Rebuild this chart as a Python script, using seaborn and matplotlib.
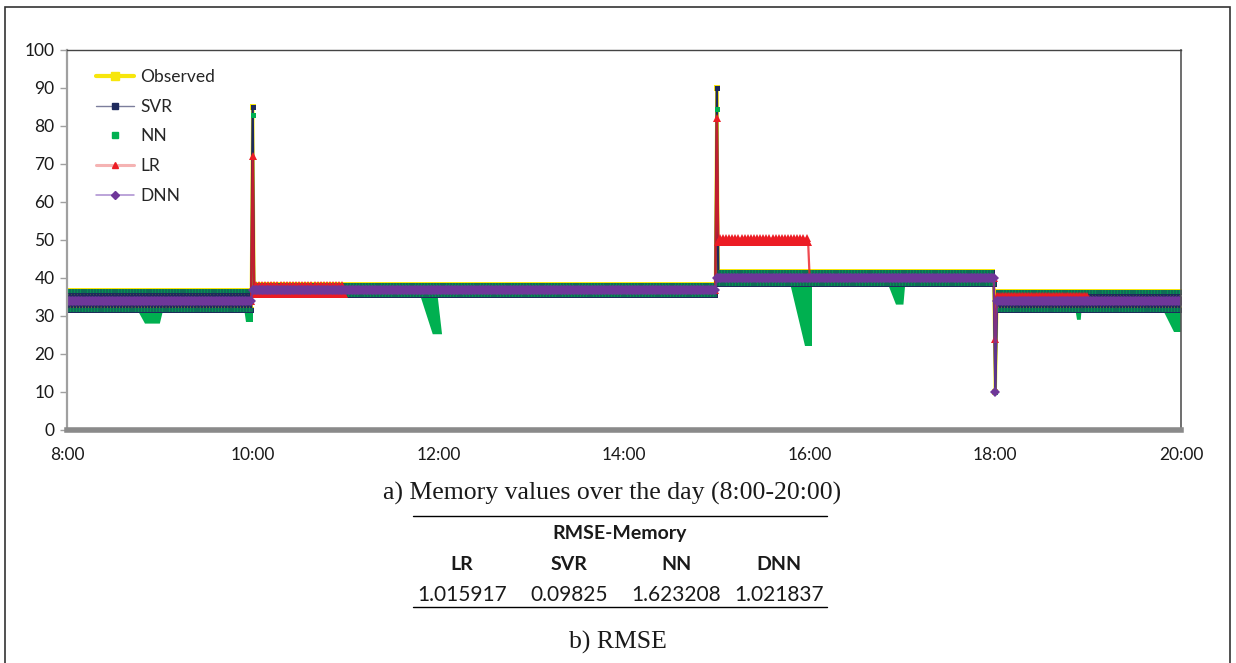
import numpy as np
import pandas as pd
import matplotlib
matplotlib.use("Agg")
import matplotlib.pyplot as plt
import seaborn as sns
from matplotlib.lines import Line2D
from matplotlib.patches import Rectangle

# ---- values ----
# observed memory: the series flips between a high and a low level every minute
seg_start = [8.0, 10.0, 15.0, 18.0]
seg_end = [10.0, 15.0, 18.0, 20.0]
obs_hi = [36.5, 38.2, 41.7, 36.2]
obs_lo = [31.7, 35.4, 38.3, 31.7]
dnn_level = [34.0, 36.8, 40.0, 34.0]

# LR has its own steps
lr_start = [8.0, 10.0, 11.0, 15.0, 16.0, 18.0, 19.0]
lr_end = [10.0, 11.0, 15.0, 16.0, 18.0, 19.0, 20.0]
lr_hi = [34.0, 38.2, 36.8, 50.5, 40.0, 35.3, 34.0]
lr_lo = [34.0, 35.8, 36.8, 49.5, 40.0, 35.3, 34.0]

# one-minute spikes
spike_time = [10.0, 15.0, 18.0]
spike_obs = [85, 90, 10]
spike_svr = [85, 90, 10]
spike_nn = [83, 84.5, 10]
spike_lr = [72, 82, 24]
spike_dnn = [36.8, 40.0, 10]

# NN drop-outs, outline of each green wedge (hour, value)
nn_dip_t = [
    [8.75, 9.04, 9.00, 8.84],
    [9.91, 10.0, 10.0, 9.93],
    [11.80, 11.99, 12.04, 11.94],
    [15.79, 16.03, 16.03, 15.95],
    [16.84, 17.03, 17.01, 16.93],
    [18.86, 18.93, 18.92, 18.88],
    [19.80, 20.0, 20.0, 19.92],
]
nn_dip_v = [
    [32.0, 32.0, 28.0, 28.0],
    [32.0, 32.0, 28.5, 28.5],
    [35.8, 35.8, 25.2, 25.2],
    [38.6, 38.6, 22.0, 22.0],
    [38.6, 38.6, 33.0, 33.0],
    [32.0, 32.0, 29.0, 29.0],
    [32.0, 32.0, 25.8, 25.8],
]

x_ticks = [8, 10, 12, 14, 16, 18, 20]
x_tick_labels = ["8:00", "10:00", "12:00", "14:00", "16:00", "18:00", "20:00"]
y_ticks = list(range(0, 101, 10))

rmse_models = ["LR", "SVR", "NN", "DNN"]
rmse_values = ["1.015917", "0.09825", "1.623208", "1.021837"]

# colours
c_obs = "#f7e60c"
c_svr = "#1e2a5c"
c_nn = "#00b050"
c_lr = "#ec1c24"
c_dnn = "#6f3799"

# ---- build minute series ----
minutes = np.arange(0, 12 * 60 + 1)
hours = 8 + minutes / 60


def steps(starts, ends, hi, lo):
    out = np.zeros(len(minutes))
    for s, e, h, l in zip(starts, ends, hi, lo):
        m0, m1 = round((s - 8) * 60), round((e - 8) * 60)
        mask = (minutes >= m0) & ((minutes < m1) | ((e == 20.0) & (minutes <= m1)))
        out[mask] = np.where(minutes[mask] % 2 == 0, h, l)
    return out


def add_spikes(vals, spikes):
    vals = vals.copy()
    for t, v in zip(spike_time, spikes):
        vals[round((t - 8) * 60)] = v
    return vals


df = pd.DataFrame({"hour": hours})
df["Observed"] = add_spikes(steps(seg_start, seg_end, obs_hi, obs_lo), spike_obs)
df["SVR"] = add_spikes(steps(seg_start, seg_end, obs_hi, obs_lo), spike_svr)
df["NN"] = add_spikes(steps(seg_start, seg_end, obs_hi, obs_lo), spike_nn)
df["LR"] = add_spikes(steps(lr_start, lr_end, lr_hi, lr_lo), spike_lr)
df["DNN"] = add_spikes(steps(seg_start, seg_end, dnn_level, dnn_level), spike_dnn)

# ---- plot ----
sns.set_style("white")
plt.rcParams["font.family"] = ["Lato", "DejaVu Sans"]

fig = plt.figure(figsize=(12.36, 6.63), dpi=100)
ax = fig.add_axes([67 / 1236, 1 - 430 / 663, 1114 / 1236, 380 / 663])

sns.lineplot(data=df, x="hour", y="Observed", ax=ax, color=c_obs, linewidth=2.3,
             marker="s", markersize=4.6, markerfacecolor=c_obs, markeredgecolor=c_obs,
             markeredgewidth=0, estimator=None, sort=False, legend=False)
sns.lineplot(data=df, x="hour", y="SVR", ax=ax, color=c_svr, linewidth=1.7,
             marker="s", markersize=3.6, markerfacecolor=c_svr, markeredgecolor=c_svr,
             markeredgewidth=0, estimator=None, sort=False, legend=False)
ax.plot(df["hour"], df["NN"], linestyle="none", marker="s", markersize=3,
        markerfacecolor=c_nn, markeredgewidth=0, alpha=0.5)
for i in [0, 1, 2]:
    idx = round((spike_time[i] - 8) * 60)
    ax.plot(df["hour"][idx], df["NN"][idx], linestyle="none", marker="s",
            markersize=3.6, color=c_nn, markeredgewidth=0)
for t, v in zip(nn_dip_t, nn_dip_v):
    ax.fill(t, v, color=c_nn, linewidth=0)
sns.lineplot(data=df, x="hour", y="LR", ax=ax, color=c_lr + "cc", linewidth=1.6,
             marker="^", markersize=5.2, markerfacecolor=c_lr, markeredgecolor=c_lr,
             markeredgewidth=0, estimator=None, sort=False, legend=False)
sns.lineplot(data=df, x="hour", y="DNN", ax=ax, color=c_dnn + "cc", linewidth=1.5,
             marker="D", markersize=5.2, markerfacecolor=c_dnn, markeredgecolor=c_dnn,
             markeredgewidth=0, estimator=None, sort=False, legend=False)

ax.set_xlim(8, 20)
ax.set_ylim(0, 100)
ax.set_xticks(x_ticks)
ax.set_xticklabels(x_tick_labels)
ax.set_yticks(y_ticks)
ax.set_xlabel("")
ax.set_ylabel("")
ax.tick_params(axis="y", left=True, length=5, width=1, color="#a0a0a0", pad=4,
               labelsize=12.5, labelcolor="#1a1a1a")
ax.tick_params(axis="x", bottom=False, length=0, pad=12, labelsize=12.5,
               labelcolor="#1a1a1a")
ax.spines["left"].set_color("#a0a0a0")
ax.spines["left"].set_linewidth(1.6)
ax.spines["bottom"].set_color("#8a8a8a")
ax.spines["bottom"].set_linewidth(4)
ax.spines["top"].set_color("#444444")
ax.spines["top"].set_linewidth(1)
ax.spines["right"].set_color("#555555")
ax.spines["right"].set_linewidth(1.2)

handles = [
    Line2D([], [], color=c_obs, lw=3, marker="s", ms=6, mfc=c_obs, mec=c_obs),
    Line2D([], [], color="#7c7e9c", lw=1, marker="s", ms=5, mfc=c_svr, mec=c_svr),
    Line2D([], [], color=c_nn, lw=0, marker="s", ms=5, mfc=c_nn, mec=c_nn),
    Line2D([], [], color="#f5b3b3", lw=2.2, marker="^", ms=4, mfc=c_lr, mec=c_lr),
    Line2D([], [], color="#a98bcf", lw=1.1, marker="D", ms=4, mfc=c_dnn, mec=c_dnn),
]
ax.legend(handles, ["Observed", "SVR", "NN", "LR", "DNN"], loc="upper left",
          bbox_to_anchor=(0.026, 0.95), frameon=False, fontsize=12.5,
          handlelength=2.2, handletextpad=0.35, labelspacing=0.79,
          borderpad=0, borderaxespad=0)

# ---- captions and RMSE table ----
fig.text(612 / 1236, 1 - 493 / 663, "a) Memory values over the day (8:00-20:00)",
         ha="center", va="center", family="Liberation Serif", fontsize=18.5, color="#1a1a1a")
fig.add_artist(Line2D([413 / 1236, 827 / 1236], [1 - 516 / 663] * 2, color="black", lw=1))
fig.add_artist(Line2D([413 / 1236, 827 / 1236], [1 - 607 / 663] * 2, color="black", lw=1))
fig.text(620 / 1236, 1 - 534 / 663, "RMSE-Memory", ha="center", va="center",
         fontsize=14, fontweight="bold", color="#1a1a1a")
col_x = [462, 569, 676, 779]
for cx, name, val in zip(col_x, rmse_models, rmse_values):
    fig.text(cx / 1236, 1 - 564 / 663, name, ha="center", va="center",
             fontsize=14, fontweight="bold", color="#1a1a1a")
    fig.text(cx / 1236, 1 - 595 / 663, val, ha="center", va="center",
             fontsize=15, color="#1a1a1a")
fig.text(618 / 1236, 1 - 642 / 663, "b) RMSE", ha="center", va="center",
         family="Liberation Serif", fontsize=18.5, color="#1a1a1a")

fig.add_artist(Rectangle((5 / 1236, -0.01), 1225 / 1236, 1.01 - 7 / 663,
                         transform=fig.transFigure, fill=False, edgecolor="#333333", lw=1.2))

fig.savefig("out.png", dpi=100)
